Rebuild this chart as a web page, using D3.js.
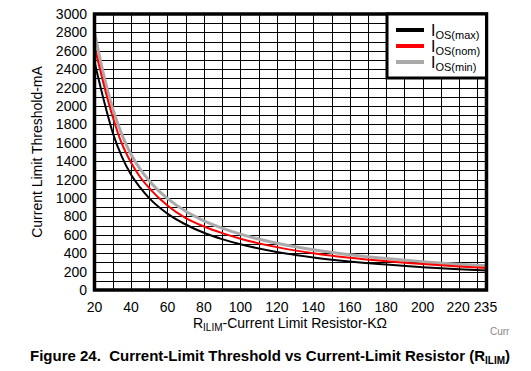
<!DOCTYPE html>
<html>
<head>
<meta charset="utf-8">
<script src="https://cdn.jsdelivr.net/npm/d3@7"></script>
<style>
  body { margin: 0; background: #fff; }
  text { font-family: "Liberation Sans", Arial, sans-serif; }
</style>
</head>
<body>
<svg id="chart" width="531" height="371"></svg>
<script>
const svg = d3.select("#chart");

// values
const resistance = [20, 25, 30, 35, 40, 45, 50, 60, 70, 80, 90, 100, 120, 140, 160, 180, 200, 220, 235];
const iosMax = [2480, 2070, 1710, 1450, 1255, 1115, 998, 830, 712, 622, 553, 497, 414, 354, 310, 276, 248, 226, 211];
const iosNom = [2650, 2240, 1880, 1590, 1385, 1228, 1108, 918, 780, 690, 618, 558, 466, 400, 350, 312, 282, 256, 240];
const iosMin = [2800, 2340, 1970, 1690, 1475, 1315, 1188, 995, 855, 752, 672, 608, 508, 437, 383, 342, 308, 280, 264];

const xTicks = [20, 40, 60, 80, 100, 120, 140, 160, 180, 200, 220, 235];
const yTicks = d3.range(0, 3001, 200);
const xGrid = d3.range(30, 231, 10);
const yGrid = d3.range(100, 3000, 100);

const series = [
    { name: "max", values: iosMax, color: "#000000", width: 2 },
    { name: "nom", values: iosNom, color: "#ff0000", width: 2 },
    { name: "min", values: iosMin, color: "#aaaaaa", width: 3 }
];

const plotL = 94.5, plotR = 486.5, plotT = 14, plotB = 290;
const x = d3.scaleLinear().domain([20, 235]).range([plotL, plotR]);
const y = d3.scaleLinear().domain([0, 3000]).range([plotB, plotT]);

// grid
svg.append("g").selectAll("line").data(xGrid).join("line")
    .attr("x1", d => Math.round(x(d)) + 0.5).attr("x2", d => Math.round(x(d)) + 0.5)
    .attr("y1", plotT).attr("y2", plotB)
    .attr("stroke", "#000").attr("stroke-width", 1);
svg.append("g").selectAll("line").data(yGrid).join("line")
    .attr("y1", d => Math.round(y(d)) + 0.5).attr("y2", d => Math.round(y(d)) + 0.5)
    .attr("x1", plotL).attr("x2", plotR)
    .attr("stroke", "#000").attr("stroke-width", 1);

// curves
svg.append("clipPath").attr("id", "plot")
    .append("rect").attr("x", plotL).attr("y", plotT).attr("width", plotR - plotL).attr("height", plotB - plotT);

const line = d3.line()
    .x((d, i) => x(resistance[i]))
    .y(d => y(d))
    .curve(d3.curveMonotoneX);

// draw min first so the black one is on top like the original
svg.append("g").attr("clip-path", "url(#plot)")
    .selectAll("path").data(series.slice().reverse()).join("path")
    .attr("d", d => line(d.values))
    .attr("fill", "none")
    .attr("stroke", d => d.color)
    .attr("stroke-width", d => d.width);

// frame
svg.append("rect")
    .attr("x", plotL).attr("y", plotT).attr("width", plotR - plotL).attr("height", plotB - plotT)
    .attr("fill", "none").attr("stroke", "#000").attr("stroke-width", 3.5);

// tick labels
svg.append("g").selectAll("text").data(yTicks).join("text")
    .attr("x", 87).attr("y", d => y(d) + 5)
    .attr("text-anchor", "end")
    .attr("font-size", 14)
    .text(d => d);
svg.append("g").selectAll("text").data(xTicks).join("text")
    .attr("x", d => x(d) + (d >= 220 ? -1 : 0))
    .attr("y", 312)
    .attr("text-anchor", "middle")
    .attr("font-size", 14)
    .text(d => d);

// axis titles
svg.append("text")
    .attr("transform", "translate(42,152) rotate(-90)")
    .attr("text-anchor", "middle")
    .attr("font-size", 14)
    .text("Current Limit Threshold-mA");

const xt = svg.append("text")
    .attr("x", 290).attr("y", 328)
    .attr("text-anchor", "middle")
    .attr("font-size", 14);
xt.append("tspan").text("R");
xt.append("tspan").attr("font-size", 10).attr("dy", 3).text("ILIM");
xt.append("tspan").attr("dy", -3).text("-Current Limit Resistor-K\u03A9");

svg.append("text")
    .attr("x", 490).attr("y", 335)
    .attr("font-size", 10)
    .attr("fill", "#888")
    .text("Curr");

// caption
const cap = svg.append("text")
    .attr("x", 30).attr("y", 361)
    .attr("font-size", 15)
    .attr("font-weight", "bold")
    .style("white-space", "pre");
cap.append("tspan").text("Figure 24.  Current-Limit Threshold vs Current-Limit Resistor (R");
cap.append("tspan").attr("font-size", 10).attr("dy", 3).text("ILIM");
cap.append("tspan").attr("dy", -3).text(")");

// legend
const lg = svg.append("g");
lg.append("rect")
    .attr("x", 387).attr("y", plotT).attr("width", plotR - 387).attr("height", 78 - plotT)
    .attr("fill", "#fff").attr("stroke", "#000").attr("stroke-width", 3);
const item = lg.selectAll("g").data(series).join("g")
    .attr("transform", (d, i) => `translate(0,${30 + i * 16})`);
item.append("line")
    .attr("x1", 396).attr("x2", 424)
    .attr("stroke", d => d.color).attr("stroke-width", 4);
const lt = item.append("text").attr("x", 431).attr("y", 6).attr("font-size", 16);
lt.append("tspan").text("I");
lt.append("tspan").attr("font-size", 11).attr("dy", 3).text(d => `OS(${d.name})`);
</script>
</body>
</html>
